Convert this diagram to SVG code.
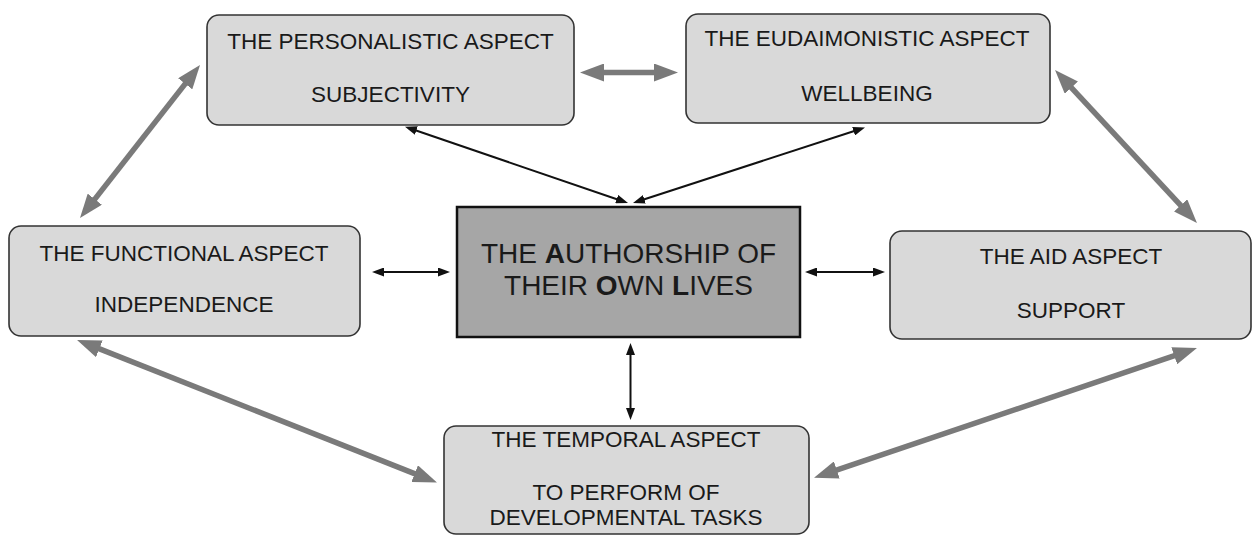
<svg xmlns="http://www.w3.org/2000/svg" width="1252" height="536" viewBox="0 0 1252 536">
<style>
.box{fill:#d9d9d9;stroke:#333;stroke-width:1.6}
.core{fill:#a6a6a6;stroke:#111;stroke-width:2.5}
.t{font-family:"Liberation Sans",Arial,sans-serif;font-size:22.5px;fill:#1a1a1a;text-anchor:middle}
.tc{font-family:"Liberation Sans",Arial,sans-serif;font-size:28px;fill:#1a1a1a;text-anchor:middle}
.b{font-weight:bold}
.g{stroke:#7a7a7a;stroke-width:5.5;fill:none;marker-start:url(#gh);marker-end:url(#gh)}
.k{stroke:#111;stroke-width:2;fill:none;marker-start:url(#kh);marker-end:url(#kh)}
</style>
<defs>
<marker id="gh" viewBox="0 0 24 18" refX="12" refY="9" markerWidth="24" markerHeight="18" markerUnits="userSpaceOnUse" orient="auto-start-reverse">
<path d="M0,0 L24,9 L0,18 z" fill="#7a7a7a"/>
</marker>
<marker id="kh" viewBox="0 0 12 9" refX="8" refY="4.5" markerWidth="12" markerHeight="9" markerUnits="userSpaceOnUse" orient="auto-start-reverse">
<path d="M0,0 L12,4.5 L0,9 z" fill="#111"/>
</marker>
</defs>
<rect width="1252" height="536" fill="#fff"/>
<g id="connectors">
<line class="g" x1="87.4" y1="208.6" x2="192.6" y2="74.4"/>
<line class="g" x1="592" y1="72.5" x2="666" y2="72.5"/>
<line class="g" x1="1063.2" y1="78.8" x2="1188.8" y2="214.2"/>
<line class="g" x1="88.2" y1="344.4" x2="425.8" y2="478.1"/>
<line class="g" x1="1185.6" y1="351.9" x2="825.4" y2="473.8"/>
<line class="k" x1="376" y1="272" x2="446" y2="272"/>
<line class="k" x1="809" y1="272" x2="881" y2="272"/>
<line class="k" x1="630.5" y1="347" x2="630.5" y2="416"/>
<line class="k" x1="408.8" y1="128" x2="624.2" y2="201.7"/>
<line class="k" x1="861.2" y1="128.7" x2="636.8" y2="201.8"/>
</g>
<g id="personalistic">
<rect class="box" x="207" y="15" width="367" height="110" rx="12"/>
<text class="t" x="390.5" y="49">THE PERSONALISTIC ASPECT</text>
<text class="t" x="390.5" y="101.5">SUBJECTIVITY</text>
</g>
<g id="eudaimonistic">
<rect class="box" x="686" y="14" width="364" height="109" rx="12"/>
<text class="t" x="867" y="46">THE EUDAIMONISTIC ASPECT</text>
<text class="t" x="867" y="100.5">WELLBEING</text>
</g>
<g id="functional">
<rect class="box" x="9" y="226" width="351" height="110" rx="12"/>
<text class="t" x="184" y="260.5">THE FUNCTIONAL ASPECT</text>
<text class="t" x="184" y="312">INDEPENDENCE</text>
</g>
<g id="authorship">
<rect class="core" x="457" y="207" width="343" height="130"/>
<text class="tc" x="628.5" y="262.5">THE <tspan class="b">A</tspan>UTHORSHIP OF</text>
<text class="tc" x="628.5" y="295">THEIR <tspan class="b">O</tspan>WN <tspan class="b">L</tspan>IVES</text>
</g>
<g id="aid">
<rect class="box" x="890" y="231" width="361" height="108" rx="12"/>
<text class="t" x="1071" y="264">THE AID ASPECT</text>
<text class="t" x="1071" y="318">SUPPORT</text>
</g>
<g id="temporal">
<rect class="box" x="444" y="426" width="365" height="108" rx="12"/>
<text class="t" x="626" y="446.5">THE TEMPORAL ASPECT</text>
<text class="t" x="626" y="500">TO PERFORM OF</text>
<text class="t" x="626" y="525">DEVELOPMENTAL TASKS</text>
</g>
</svg>
